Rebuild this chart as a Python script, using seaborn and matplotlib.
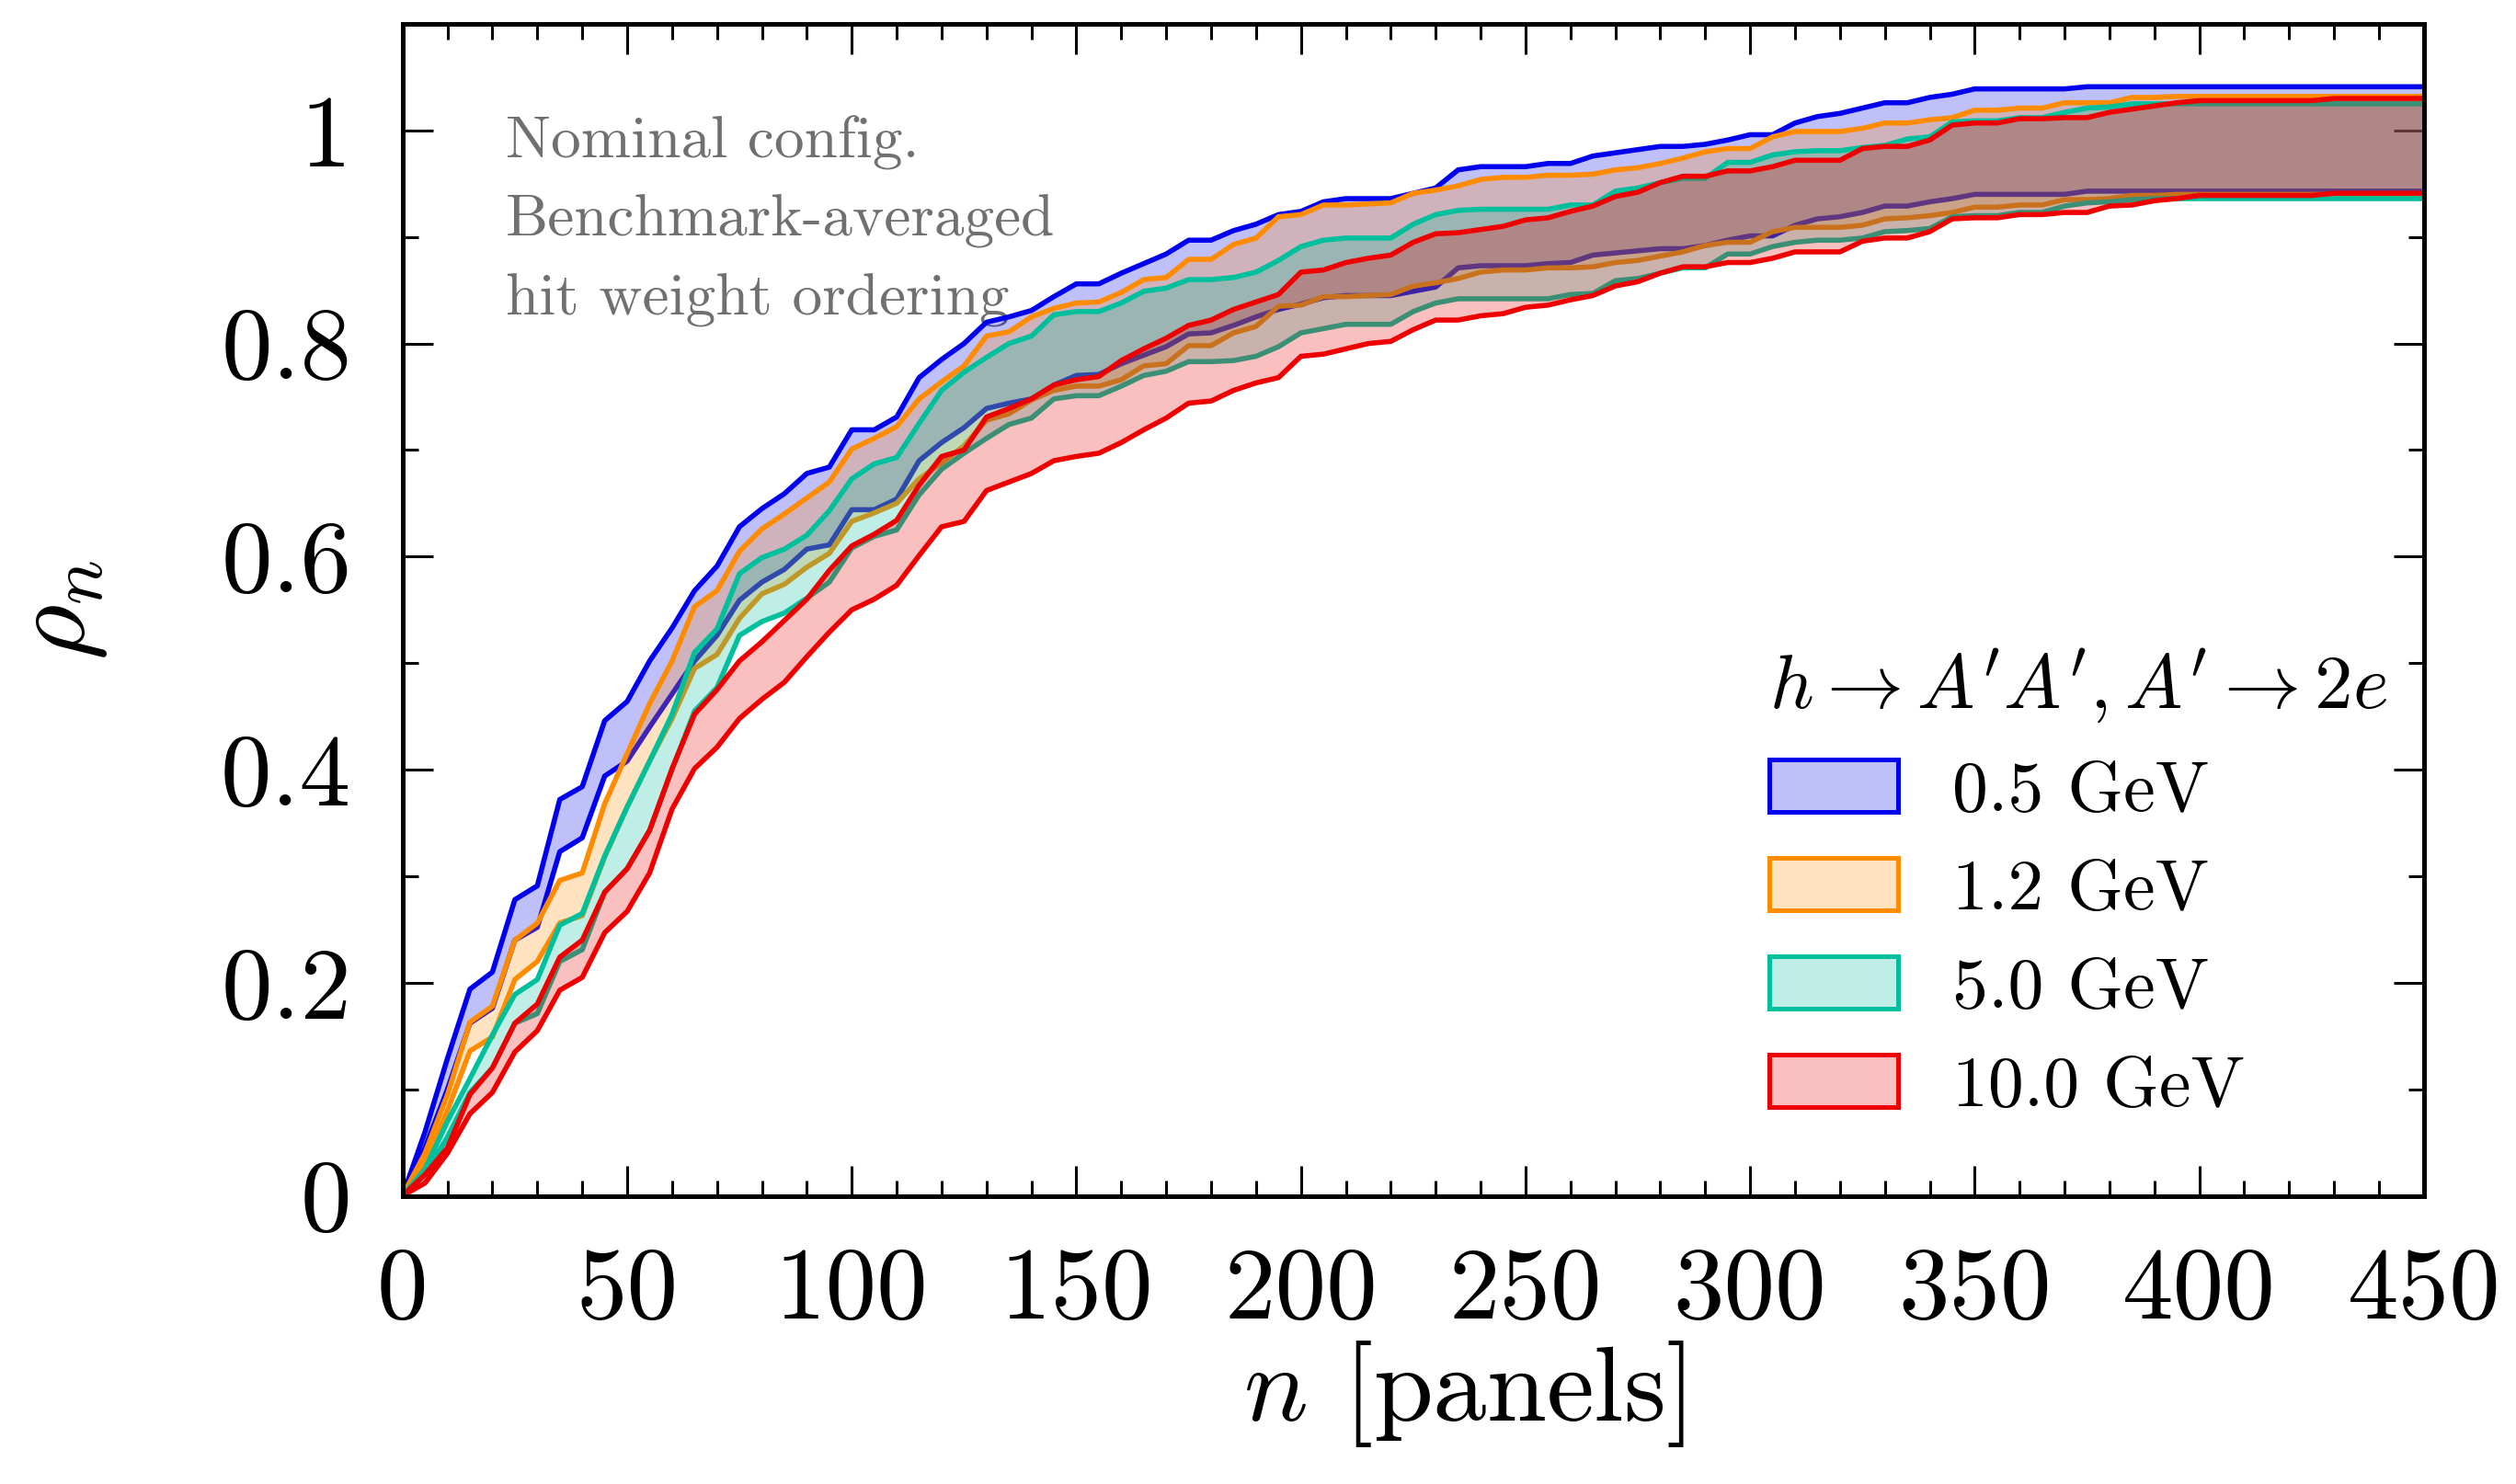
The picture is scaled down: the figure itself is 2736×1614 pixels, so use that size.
import numpy as np
import pandas as pd
import matplotlib
matplotlib.use("Agg")
import matplotlib.pyplot as plt
import seaborn as sns
from matplotlib.patches import Patch
from matplotlib.colors import to_rgba
from matplotlib.ticker import MultipleLocator, FuncFormatter

# ---------------- data ----------------
n_panels = list(range(0, 451, 5))

labels = ["0.5 GeV", "1.2 GeV", "5.0 GeV", "10.0 GeV"]
colors = ["#0000ee", "#ff8c00", "#00bf9c", "#ee0000"]

blue_hi = [0.0, 0.06, 0.129, 0.194, 0.21, 0.278, 0.291, 0.372, 0.384, 0.446, 0.464, 0.502, 0.533,
           0.568, 0.591, 0.628, 0.645, 0.659, 0.678, 0.684, 0.719, 0.719, 0.731, 0.768, 0.785, 0.800,
           0.820, 0.825, 0.831, 0.844, 0.856, 0.856, 0.866, 0.875, 0.884, 0.897, 0.897, 0.906, 0.912,
           0.921, 0.924, 0.933, 0.936, 0.936, 0.936, 0.941, 0.946, 0.963, 0.966, 0.966, 0.966, 0.969,
           0.969, 0.976, 0.979, 0.982, 0.985, 0.985, 0.987, 0.991, 0.996, 0.996, 1.007, 1.013, 1.016,
           1.021, 1.026, 1.026, 1.031, 1.034, 1.039, 1.039, 1.039, 1.039, 1.039, 1.041,
           1.041, 1.041, 1.041, 1.041, 1.041, 1.041, 1.041, 1.041, 1.041, 1.041, 1.041, 1.041, 1.041,
           1.041, 1.041]
blue_lo = [0.0, 0.045, 0.10, 0.162, 0.176, 0.24, 0.252, 0.323, 0.336, 0.394, 0.408, 0.44, 0.471,
           0.502, 0.526, 0.559, 0.576, 0.588, 0.607, 0.611, 0.644, 0.644, 0.654, 0.69, 0.707, 0.721,
           0.739, 0.744, 0.748, 0.761, 0.77, 0.771, 0.781, 0.789, 0.797, 0.809, 0.81, 0.817, 0.825,
           0.832, 0.837, 0.843, 0.845, 0.845, 0.845, 0.849, 0.853, 0.871, 0.873, 0.873, 0.873, 0.875,
           0.876, 0.883, 0.885, 0.887, 0.889, 0.889, 0.892, 0.897, 0.901, 0.901, 0.911, 0.917, 0.919,
           0.923, 0.929, 0.929, 0.933, 0.936, 0.94, 0.94, 0.94, 0.94, 0.94, 0.943,
           0.943, 0.943, 0.943, 0.943, 0.943, 0.943, 0.943, 0.943, 0.943, 0.943, 0.943, 0.943, 0.943,
           0.943, 0.943]
orange_hi = [0.0, 0.04, 0.095, 0.163, 0.178, 0.24, 0.256, 0.296, 0.303, 0.368, 0.415, 0.462, 0.502,
             0.553, 0.568, 0.605, 0.626, 0.64, 0.655, 0.67, 0.701, 0.711, 0.722, 0.748, 0.764, 0.779,
             0.807, 0.811, 0.825, 0.833, 0.838, 0.839, 0.848, 0.86, 0.862, 0.879, 0.879, 0.893, 0.899,
             0.919, 0.921, 0.93, 0.93, 0.931, 0.932, 0.941, 0.944, 0.948, 0.954, 0.956, 0.956, 0.958,
             0.958, 0.959, 0.963, 0.965, 0.969, 0.974, 0.98, 0.983, 0.983, 0.994, 0.999, 0.999, 0.999,
             1.002, 1.007, 1.007, 1.01, 1.012, 1.019, 1.019, 1.021, 1.021, 1.026, 1.026, 1.026, 1.031,
             1.031, 1.032, 1.032, 1.032, 1.032, 1.032, 1.032, 1.032, 1.032, 1.032, 1.032, 1.032, 1.032]
orange_lo = [0.0, 0.03, 0.08, 0.136, 0.149, 0.203, 0.22, 0.256, 0.263, 0.318, 0.365, 0.408, 0.448,
             0.495, 0.508, 0.542, 0.565, 0.574, 0.59, 0.603, 0.633, 0.641, 0.65, 0.673, 0.688, 0.704,
             0.728, 0.734, 0.747, 0.756, 0.76, 0.76, 0.766, 0.779, 0.781, 0.798, 0.798, 0.81, 0.816,
             0.835, 0.836, 0.844, 0.844, 0.845, 0.846, 0.854, 0.857, 0.861, 0.867, 0.869, 0.869, 0.871,
             0.871, 0.872, 0.876, 0.878, 0.882, 0.886, 0.892, 0.895, 0.895, 0.905, 0.909, 0.909, 0.909,
             0.911, 0.917, 0.918, 0.92, 0.923, 0.928, 0.928, 0.93, 0.93, 0.935, 0.935, 0.936, 0.939,
             0.939, 0.94, 0.94, 0.94, 0.94, 0.94, 0.94, 0.94, 0.94, 0.94, 0.94, 0.94, 0.94]
teal_hi = [0.0, 0.025, 0.07, 0.11, 0.151, 0.189, 0.203, 0.254, 0.265, 0.319, 0.365, 0.408, 0.452,
           0.51, 0.532, 0.584, 0.599, 0.607, 0.62, 0.643, 0.673, 0.687, 0.693, 0.725, 0.756, 0.773,
           0.787, 0.8, 0.807, 0.827, 0.83, 0.83, 0.838, 0.849, 0.852, 0.86, 0.86, 0.862, 0.867,
           0.878, 0.891, 0.897, 0.899, 0.899, 0.899, 0.912, 0.921, 0.925, 0.926, 0.926, 0.926, 0.926,
           0.93, 0.93, 0.943, 0.946, 0.951, 0.955, 0.955, 0.97, 0.97, 0.977, 0.98, 0.981, 0.981,
           0.984, 0.986, 0.992, 0.994, 1.008, 1.009, 1.009, 1.012, 1.012, 1.017, 1.021, 1.022, 1.025,
           1.025, 1.025, 1.025, 1.025, 1.025, 1.025, 1.025, 1.025, 1.025, 1.025, 1.025, 1.025, 1.025]
teal_lo = [0.0, 0.02, 0.055, 0.097, 0.12, 0.162, 0.171, 0.22, 0.231, 0.285, 0.307, 0.343, 0.40,
           0.455, 0.477, 0.526, 0.539, 0.547, 0.561, 0.576, 0.608, 0.619, 0.625, 0.658, 0.682, 0.697,
           0.711, 0.724, 0.73, 0.748, 0.751, 0.751, 0.76, 0.77, 0.774, 0.783, 0.783, 0.784, 0.788,
           0.797, 0.81, 0.814, 0.818, 0.818, 0.818, 0.83, 0.838, 0.842, 0.842, 0.842, 0.842, 0.842,
           0.846, 0.847, 0.859, 0.861, 0.866, 0.871, 0.871, 0.884, 0.884, 0.891, 0.895, 0.897, 0.897,
           0.899, 0.905, 0.906, 0.908, 0.919, 0.92, 0.92, 0.923, 0.923, 0.929, 0.932, 0.933, 0.935,
           0.936, 0.936, 0.936, 0.936, 0.936, 0.936, 0.936, 0.936, 0.936, 0.936, 0.936, 0.936, 0.936]
red_hi = [0.0, 0.02, 0.045, 0.095, 0.12, 0.162, 0.18, 0.224, 0.24, 0.285, 0.307, 0.343, 0.401,
          0.452, 0.475, 0.502, 0.52, 0.54, 0.56, 0.587, 0.61, 0.621, 0.634, 0.667, 0.694, 0.7,
          0.731, 0.739, 0.748, 0.761, 0.766, 0.769, 0.784, 0.795, 0.805, 0.817, 0.822, 0.832, 0.839,
          0.846, 0.867, 0.869, 0.876, 0.88, 0.883, 0.895, 0.903, 0.904, 0.907, 0.91, 0.916, 0.918,
          0.924, 0.929, 0.938, 0.942, 0.951, 0.957, 0.957, 0.962, 0.962, 0.966, 0.972, 0.972, 0.972,
          0.983, 0.985, 0.985, 0.991, 1.005, 1.007, 1.007, 1.011, 1.011, 1.012, 1.012, 1.017, 1.02,
          1.023, 1.026, 1.028, 1.028, 1.028, 1.028, 1.028, 1.028, 1.03, 1.03, 1.03, 1.03, 1.03]
red_lo = [0.0, 0.012, 0.04, 0.077, 0.097, 0.135, 0.155, 0.193, 0.205, 0.247, 0.267, 0.303, 0.363,
          0.401, 0.421, 0.448, 0.466, 0.482, 0.506, 0.529, 0.55, 0.56, 0.573, 0.601, 0.628, 0.633,
          0.662, 0.67, 0.678, 0.69, 0.694, 0.697, 0.707, 0.719, 0.73, 0.744, 0.746, 0.756, 0.763,
          0.768, 0.788, 0.79, 0.795, 0.8, 0.802, 0.813, 0.822, 0.822, 0.826, 0.828, 0.834, 0.836,
          0.841, 0.845, 0.854, 0.858, 0.866, 0.872, 0.872, 0.876, 0.876, 0.88, 0.886, 0.886, 0.886,
          0.896, 0.899, 0.899, 0.905, 0.917, 0.918, 0.918, 0.921, 0.921, 0.923, 0.923, 0.929, 0.93,
          0.934, 0.936, 0.939, 0.939, 0.939, 0.939, 0.939, 0.939, 0.941, 0.941, 0.941, 0.941, 0.941]

upper = [blue_hi, orange_hi, teal_hi, red_hi]
lower = [blue_lo, orange_lo, teal_lo, red_lo]

legend_title = r"$h \rightarrow A'A', A' \rightarrow 2e$"
annotation = "Nominal config.\nBenchmark-averaged\nhit weight ordering"

# ---------------- style ----------------
sns.set_theme(style="ticks")
plt.rcParams.update({
    "font.family": ["cmr10"],
    "mathtext.fontset": "cm",
    "axes.formatter.use_mathtext": True,
    "axes.unicode_minus": False,
    "text.color": "black",
    "axes.labelcolor": "black",
    "xtick.color": "black",
    "ytick.color": "black",
    "xtick.labelcolor": "black",
    "ytick.labelcolor": "black",
})

fig = plt.figure(figsize=(13.68, 8.07), dpi=200)
ax = fig.add_axes([0.16, 0.1942, 0.8034, 0.7897])

for i in range(len(labels)):
    c = colors[i]
    ax.fill_between(n_panels, lower[i], upper[i], color=c, alpha=0.25, lw=0, zorder=2 + i)
    df = pd.DataFrame({"n": n_panels, "hi": upper[i], "lo": lower[i]})
    sns.lineplot(data=df, x="n", y="hi", color=c, lw=2.0, ax=ax, zorder=2 + i, estimator=None)
    sns.lineplot(data=df, x="n", y="lo", color=c, lw=2.0, ax=ax, zorder=2 + i, estimator=None)

ax.set_xlim(0, 450)
ax.set_ylim(0, 1.1)
ax.xaxis.set_major_locator(MultipleLocator(50))
ax.xaxis.set_minor_locator(MultipleLocator(10))
ax.yaxis.set_major_locator(MultipleLocator(0.2))
ax.yaxis.set_minor_locator(MultipleLocator(0.1))
ax.xaxis.set_major_formatter(FuncFormatter(lambda v, p: "%g" % round(v, 6)))
ax.yaxis.set_major_formatter(FuncFormatter(lambda v, p: "%g" % round(v, 6)))

ax.tick_params(which="both", direction="in", top=True, right=True, width=1.1, color="black",
               labelcolor="black")
ax.tick_params(which="major", length=12, labelsize=40, pad=20)
ax.tick_params(which="minor", length=6)
for s in ax.spines.values():
    s.set_linewidth(1.8)
    s.set_color("black")
    s.set_zorder(10)

ax.set_xlabel(r"$n$ [panels]", fontsize=42, color="black")
ax.set_ylabel(r"$\rho_n$", fontsize=42, color="black")
ax.xaxis.set_label_coords(0.525, -0.122)
ax.yaxis.set_label_coords(-0.145, 0.5)

ax.text(0.051, 0.922, annotation, transform=ax.transAxes, fontsize=23.5, color="#707070",
        ha="left", va="top", linespacing=1.6, zorder=1)

handles = [Patch(facecolor=to_rgba(c, 0.25), edgecolor=c, linewidth=1.8) for c in colors]
leg = ax.legend(handles, labels, title=legend_title, loc="lower right", bbox_to_anchor=(1.007, 0.022),
                fontsize=28, title_fontsize=30, frameon=False, handlelength=1.8, handleheight=0.75,
                handletextpad=0.75, labelspacing=0.47, borderpad=0.2)
leg._legend_box.align = "left"
for t in leg.get_texts():
    t.set_color("black")
leg.get_title().set_color("black")
leg.set_zorder(20)

fig.savefig("out.png", dpi=200)
